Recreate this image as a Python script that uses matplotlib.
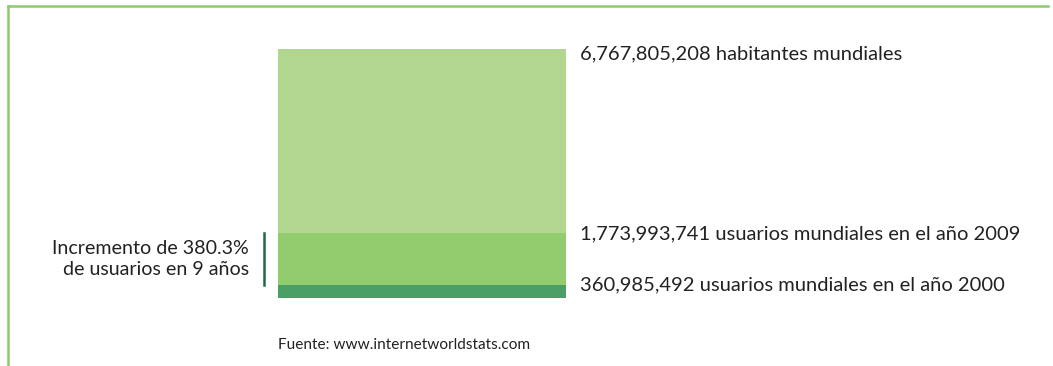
import matplotlib.pyplot as plt
from matplotlib.lines import Line2D
from matplotlib.transforms import blended_transform_factory

# values
poblacion = 6767805208
usuarios_2009 = 1773993741
usuarios_2000 = 360985492

etiquetas = ["6,767,805,208 habitantes mundiales",
             "1,773,993,741 usuarios mundiales en el año 2009",
             "360,985,492 usuarios mundiales en el año 2000"]
valores = [poblacion, usuarios_2009, usuarios_2000]
colores = ["#b1d690", "#92cc6f", "#4a9e66"]
nota = "Incremento de 380.3%\nde usuarios en 9 años"
fuente = "Fuente: www.internetworldstats.com"

plt.rcParams["font.family"] = ["Lato", "DejaVu Sans"]

W, H = 1053, 366
fig = plt.figure(figsize=(W / 100, H / 100), dpi=100)

# frame lines (top and left)
fig.add_artist(Line2D([7.5 / W, 1048 / W], [1 - 5.5 / H, 1 - 5.5 / H],
                      color="#8acb6c", lw=1.8, transform=fig.transFigure))
fig.add_artist(Line2D([7.5 / W, 7.5 / W], [0, 1 - 5.5 / H],
                      color="#8acb6c", lw=1.8, transform=fig.transFigure))

ax = fig.add_axes([278 / W, (H - 298) / H, 288 / W, 249 / H])
for v, c in zip(valores, colores):
    ax.bar([0], [v], width=1, color=c, align="center")
ax.set_xlim(-0.5, 0.5)
ax.set_ylim(0, poblacion)
ax.axis("off")

tr = blended_transform_factory(ax.transAxes, ax.transData)
offs = [1.4e8, 0.2e8, 0.0]
for v, t, o in zip(valores, etiquetas, offs):
    ax.text(1.05, v - o, t, transform=tr, ha="left", va="center",
            fontsize=14.5, color="#222222")

# bracket line and note
ax.plot([-0.05, -0.05], [usuarios_2000, usuarios_2009], transform=tr,
        color="#1e6b3c", lw=1.8, clip_on=False)
ax.text(-0.1, (usuarios_2000 + usuarios_2009) / 2, nota, transform=tr,
        ha="right", va="center", fontsize=14.1, color="#222222",
        linespacing=1.3)

fig.text(278 / W, 1 - 345 / H, fuente, ha="left", va="center",
         fontsize=11.1, color="#222222")

fig.savefig("out.png", dpi=100)
